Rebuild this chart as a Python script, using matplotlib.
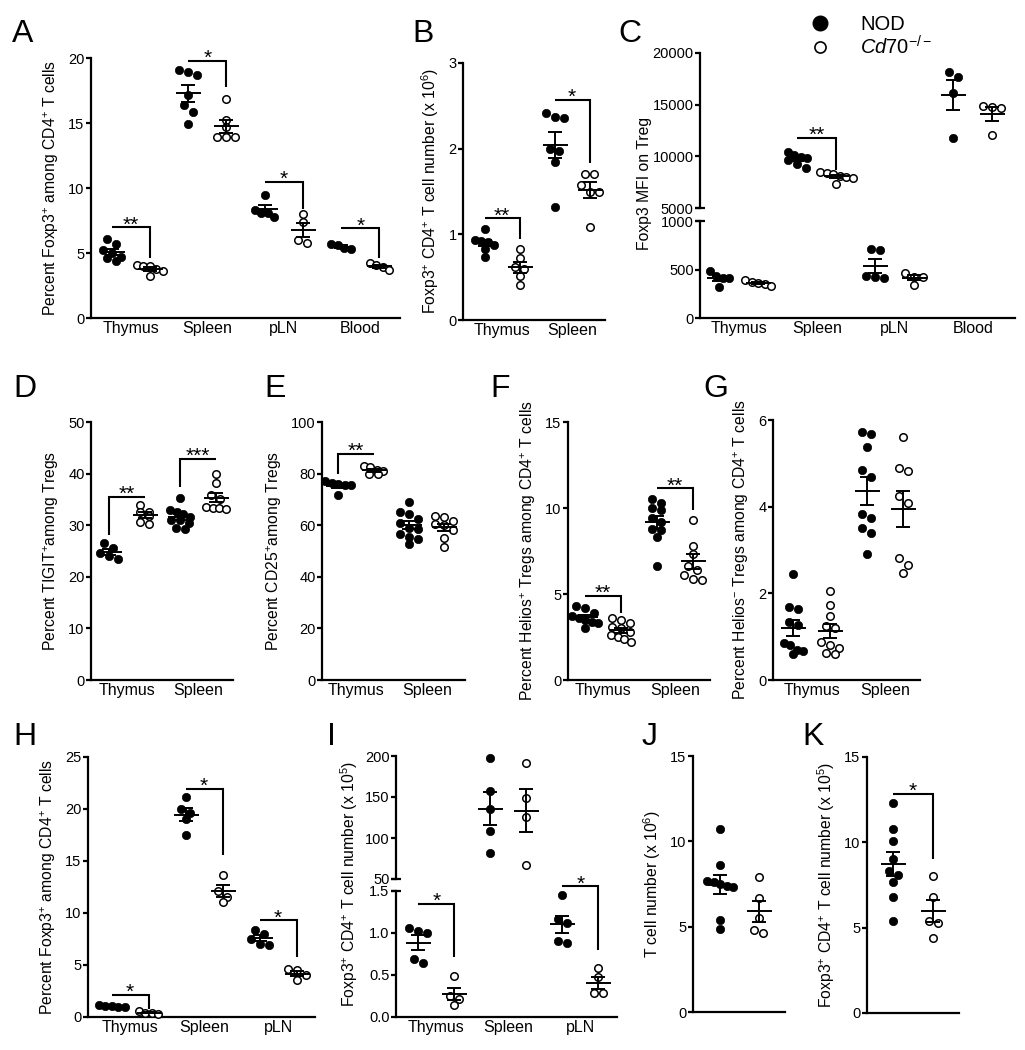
import numpy as np
import matplotlib
matplotlib.use('Agg')
import matplotlib.pyplot as plt
from matplotlib.lines import Line2D

plt.rcParams['font.family'] = ['Liberation Sans', 'DejaVu Sans']
plt.rcParams['mathtext.fontset'] = 'custom'
plt.rcParams['mathtext.rm'] = 'Liberation Sans'
plt.rcParams['mathtext.it'] = 'Liberation Sans:italic'
plt.rcParams['mathtext.default'] = 'regular'

# ---------------- data ----------------
A_cats = ['Thymus', 'Spleen', 'pLN', 'Blood']
A_nod = [[6.1, 5.7, 5.2, 5.0, 4.7, 4.6, 4.4],
         [19.05, 18.92, 18.71, 17.12, 16.40, 15.83, 14.90],
         [9.5, 8.3, 8.1, 8.1, 7.8],
         [5.7, 5.6, 5.4, 5.3]]
A_ko = [[4.1, 4.0, 4.0, 3.8, 3.6, 3.2],
        [16.85, 15.26, 14.67, 13.9, 13.9, 13.9],
        [8.0, 7.4, 6.0, 5.8],
        [4.2, 4.1, 3.9, 3.7]]
A_sig = [(0, 7.0, 4.6, '**'), (1, 19.8, 17.8, '*'), (2, 10.5, 8.4, '*'), (3, 6.9, 4.6, '*')]

B_cats = ['Thymus', 'Spleen']
B_nod = [[1.06, 0.93, 0.92, 0.91, 0.88, 0.83, 0.74],
         [2.42, 2.37, 2.36, 2.0, 1.97, 1.85, 1.32]]
B_ko = [[0.83, 0.72, 0.62, 0.59, 0.51, 0.41],
        [1.71, 1.71, 1.58, 1.50, 1.50, 1.08]]
B_sig = [(0, 1.19, 0.95, '**'), (1, 2.57, 1.83, '*')]

C_cats = ['Thymus', 'Spleen', 'pLN', 'Blood']
C_nod = [[480, 430, 410, 410, 320],
         [10400, 10100, 9900, 9800, 9600, 9300, 8900],
         [710, 700, 430, 420, 410],
         [18200, 17700, 16100, 11800]]
C_ko = [[395, 375, 365, 350, 335],
        [8500, 8400, 8300, 8100, 8000, 7900, 7300],
        [465, 425, 425, 340],
        [14900, 14800, 14700, 12100]]
C_sig = [(1, 11800, 8700, '**')]
C_top_ticks = [5000, 10000, 15000, 20000]
C_bot_ticks = [0, 500, 1000]

D_cats = ['Thymus', 'Spleen']
D_nod = [[26.5, 25.5, 24.6, 24.0, 23.4],
         [35.2, 33.0, 32.6, 32.2, 31.6, 31.0, 31.0, 30.5, 29.4, 29.2]]
D_ko = [[34.0, 32.6, 32.5, 31.8, 30.6, 30.3],
        [40.0, 38.2, 35.8, 35.0, 33.5, 33.4, 33.4, 33.2]]
D_sig = [(0, 35.5, 28.1, '**'), (1, 42.9, 37.4, '***')]

E_cats = ['Thymus', 'Spleen']
E_nod = [[77.0, 76.5, 76.0, 75.5, 75.5, 71.6],
         [69.0, 65.2, 64.5, 62.5, 61.0, 59.0, 58.5, 56.5, 55.5, 54.8, 52.9]]
E_ko = [[83.0, 82.5, 81.5, 81.0, 80.0, 79.8],
        [63.5, 63.0, 61.5, 60.5, 60.0, 58.0, 55.0, 51.5]]
E_sig = [(0, 87.7, 80.0, '**')]

F_cats = ['Thymus', 'Spleen']
F_nod = [[4.3, 4.2, 3.9, 3.7, 3.6, 3.5, 3.4, 3.3, 3.0],
         [10.5, 10.3, 10.0, 9.9, 9.4, 9.2, 8.8, 8.7, 8.3, 6.6]]
F_ko = [[3.6, 3.5, 3.3, 3.1, 3.0, 2.8, 2.6, 2.5, 2.4, 2.2],
        [9.3, 7.8, 7.3, 6.6, 6.4, 6.1, 5.9, 5.8]]
F_sig = [(0, 4.9, 3.9, '**'), (1, 11.16, 9.86, '**')]

G_cats = ['Thymus', 'Spleen']
G_nod = [[2.44, 1.68, 1.65, 1.35, 1.28, 0.85, 0.80, 0.70, 0.68, 0.60],
         [5.72, 5.68, 5.38, 4.85, 4.69, 3.82, 3.75, 3.5, 3.4, 2.9]]
G_ko = [[2.05, 1.72, 1.48, 1.25, 1.20, 0.88, 0.80, 0.75, 0.62, 0.60],
        [5.6, 4.9, 4.82, 4.25, 4.08, 2.82, 2.65, 2.48]]
G_sig = []

H_cats = ['Thymus', 'Spleen', 'pLN']
H_nod = [[1.2, 1.1, 1.1, 1.0, 1.0],
         [21.2, 20.0, 19.6, 19.0, 17.5],
         [8.4, 8.0, 7.5, 7.0, 6.9]]
H_ko = [[0.6, 0.4, 0.4, 0.3],
        [13.7, 12.1, 11.5, 11.1],
        [4.6, 4.5, 4.0, 3.6]]
H_sig = [(0, 2.15, 0.8, '*'), (1, 21.96, 15.6, '*'), (2, 9.3, 5.8, '*')]

I_cats = ['Thymus', 'Spleen', 'pLN']
I_nod = [[1.06, 1.02, 1.0, 0.69, 0.64],
         [197, 157, 135, 108, 82],
         [1.45, 1.17, 1.12, 0.9, 0.88]]
I_ko = [[0.49, 0.25, 0.22, 0.14],
        [192, 148.5, 126, 66.6],
        [0.58, 0.48, 0.28, 0.28]]
I_sig = [(0, 1.35, 0.72, '*'), (2, 1.56, 0.8, '*')]
I_top_ticks = [50, 100, 150, 200]
I_bot_ticks = [0.0, 0.5, 1.0, 1.5]
I_bot_labels = ['0.0', '0.5', '1.0', '1.5']

J_nod = [10.7, 8.6, 7.7, 7.6, 7.5, 7.4, 7.3, 5.4, 4.85]
J_ko = [7.9, 6.7, 5.5, 4.8, 4.6]

K_nod = [12.3, 10.8, 10.1, 9.0, 8.3, 8.1, 7.7, 6.8, 5.4]
K_ko = [8.0, 6.8, 5.4, 5.3, 4.4]
K_sig = [(0, 12.85, 9.0, '*')]

legend_labels = ['NOD', r'$\mathit{Cd70^{-/-}}$']

# ---------------- figure ----------------
W, H = 1025, 1050
DPI = 100
fig = plt.figure(figsize=(W / DPI, H / DPI), dpi=DPI)
LW = 1.6


def pax(l, t, r, b):
    return fig.add_axes([l / W, 1 - b / H, (r - l) / W, (b - t) / H])


def style(ax, bottom=True):
    for s in ['top', 'right']:
        ax.spines[s].set_visible(False)
    ax.spines['left'].set_linewidth(LW)
    ax.spines['bottom'].set_linewidth(LW)
    ax.spines['left'].set_capstyle('projecting')
    ax.spines['bottom'].set_capstyle('projecting')
    if not bottom:
        ax.spines['bottom'].set_visible(False)
    ax.tick_params(axis='y', length=3.6, width=LW, labelsize=10.5, pad=1.0)
    ax.tick_params(axis='x', length=0, labelsize=11.5, pad=2.5)
    ax.set_facecolor('none')
    if not bottom:
        ax.set_xticks([])


def swarm(ax, x, vals, dy_thr=7.5):
    """Row-based horizontal spreading (layout only)."""
    vals = np.asarray(vals, float)
    pts = ax.transData.transform(np.column_stack([np.full(len(vals), x), vals]))
    ys = pts[:, 1]
    ux = ax.transData.transform([(x + 1, 0)])[0, 0] - ax.transData.transform([(x, 0)])[0, 0]
    order = np.argsort(-vals, kind='stable')
    rows = []
    for i in order:
        if rows and abs(ys[rows[-1][0]] - ys[i]) < dy_thr:
            rows[-1].append(i)
        else:
            rows.append([i])
    offs = np.zeros(len(vals))
    for r in rows:
        n = len(r)
        sp = 9.0 if n <= 3 else 6.5
        for k, i in enumerate(r):
            offs[i] = (k - (n - 1) / 2) * sp
    return offs / ux


def draw_group(ax, x, vals, filled):
    vals = np.asarray(vals, float)
    xs = x + swarm(ax, x, vals)
    if filled:
        ax.plot(xs, vals, 'o', ms=6.0, mfc='black', mec='black', mew=0.5,
                ls='none', zorder=3, clip_on=False)
    else:
        ax.plot(xs, vals, 'o', ms=5.4, mfc='white', mec='black', mew=1.1,
                ls='none', zorder=3, clip_on=False)
    m = vals.mean()
    se = vals.std(ddof=1) / np.sqrt(len(vals))
    ax.errorbar([x], [m], yerr=[se], fmt='none', ecolor='black', elinewidth=1.4,
                capsize=5, capthick=1.4, zorder=4)
    ax.plot([x], [m], marker='_', ms=18, mew=1.4, color='black', zorder=4)


def bracket(ax, x0, x1, ybar, ydrop, stars, side='right'):
    if side == 'right':
        xs, ys = [x0, x1, x1], [ybar, ybar, ydrop]
    else:
        xs, ys = [x0, x0, x1], [ydrop, ybar, ybar]
    ax.plot(xs, ys, color='black', lw=1.5, clip_on=False, solid_joinstyle='miter',
            solid_capstyle='butt', zorder=5)
    ax.annotate(stars, xy=((x0 + x1) / 2, ybar), xytext=(0, -2.5),
                textcoords='offset points', ha='center', va='baseline',
                fontsize=15, annotation_clip=False)


def pick_axis(axes, v):
    for a in axes:
        lo, hi = a.get_ylim()
        if lo <= v <= hi * 1.05:
            return a
    return axes[-1]


def dot_panel(axes, cats, nod, ko, sig, off=0.25, side='right'):
    positions = np.arange(len(cats))
    for i, p in enumerate(positions):
        an = pick_axis(axes, np.mean(nod[i]))
        ak = pick_axis(axes, np.mean(ko[i]))
        draw_group(an, p - off, nod[i], True)
        draw_group(ak, p + off, ko[i], False)
    for (i, yb, yd, s) in sig:
        a = pick_axis(axes, yd)
        bracket(a, positions[i] - off, positions[i] + off, yb, yd, s, side)
    bottom = axes[-1]
    bottom.set_xticks(positions)
    bottom.set_xticklabels(cats)


def break_mark(ax, yfrac, width_px):
    f = 5.0 / width_px
    ax.plot([-f, f], [yfrac, yfrac], transform=ax.transAxes, color='black',
            lw=LW, clip_on=False, solid_capstyle='butt')


YL = 11.3

# ---- A ----
axA = pax(91, 58, 400, 318)
style(axA)
axA.set_xlim(-0.52, 3.52)
axA.set_ylim(0, 20)
axA.set_yticks([0, 5, 10, 15, 20])
dot_panel([axA], A_cats, A_nod, A_ko, A_sig)
axA.set_ylabel('Percent Foxp3$^{+}$ among CD4$^{+}$ T cells', fontsize=YL, labelpad=5)

# ---- B ----
axB = pax(463, 63, 605, 320)
style(axB)
axB.set_xlim(-0.56, 1.47)
axB.set_ylim(0, 3)
axB.set_yticks([0, 1, 2, 3])
dot_panel([axB], B_cats, B_nod, B_ko, B_sig)
axB.set_ylabel('Foxp3$^{+}$ CD4$^{+}$ T cell number (x 10$^{6}$)', fontsize=YL, labelpad=5)

# ---- C (broken axis) ----
axCt = pax(700, 53, 1015, 208)
axCb = pax(700, 221, 1015, 318)
style(axCt, bottom=False)
style(axCb)
for a in (axCt, axCb):
    a.set_xlim(-0.5, 3.54)
axCt.set_ylim(5000, 20000)
axCt.set_yticks(C_top_ticks)
axCb.set_ylim(0, 1000)
axCb.set_yticks(C_bot_ticks)
dot_panel([axCt, axCb], C_cats, C_nod, C_ko, C_sig)
break_mark(axCt, 0, 315)
break_mark(axCb, 1, 315)
axCb.set_ylabel('Foxp3 MFI on Treg', fontsize=YL)
axCb.yaxis.set_label_coords(652 / W, 1 - 183 / H, transform=fig.transFigure)

# ---- D ----
axD = pax(91, 422, 233, 680)
style(axD)
axD.set_xlim(-0.5, 1.49)
axD.set_ylim(0, 50)
axD.set_yticks([0, 10, 20, 30, 40, 50])
dot_panel([axD], D_cats, D_nod, D_ko, D_sig, side='left')
axD.set_ylabel('Percent TIGIT$^{+}$among Tregs', fontsize=YL, labelpad=5)

# ---- E ----
axE = pax(322, 422, 465, 680)
style(axE)
axE.set_xlim(-0.48, 1.54)
axE.set_ylim(0, 100)
axE.set_yticks([0, 20, 40, 60, 80, 100])
dot_panel([axE], E_cats, E_nod, E_ko, E_sig, side='left')
axE.set_ylabel('Percent CD25$^{+}$among Tregs', fontsize=YL, labelpad=5)

# ---- F ----
axF = pax(568, 422, 710, 680)
style(axF)
axF.set_xlim(-0.49, 1.49)
axF.set_ylim(0, 15)
axF.set_yticks([0, 5, 10, 15])
dot_panel([axF], F_cats, F_nod, F_ko, F_sig)
axF.set_ylabel('Percent Helios$^{+}$ Tregs among CD4$^{+}$ T cells', fontsize=YL, labelpad=5)

# ---- G ----
axG = pax(773, 420, 920, 680)
style(axG)
axG.set_xlim(-0.53, 1.48)
axG.set_ylim(0, 6)
axG.set_yticks([0, 2, 4, 6])
dot_panel([axG], G_cats, G_nod, G_ko, G_sig)
axG.set_ylabel('Percent Helios$^{-}$ Tregs among CD4$^{+}$ T cells', fontsize=YL, labelpad=5)

# ---- H ----
axH = pax(88, 757, 315, 1017)
style(axH)
axH.set_xlim(-0.57, 2.5)
axH.set_ylim(0, 25)
axH.set_yticks([0, 5, 10, 15, 20, 25])
dot_panel([axH], H_cats, H_nod, H_ko, H_sig)
axH.set_ylabel('Percent Foxp3$^{+}$ among CD4$^{+}$ T cells', fontsize=YL, labelpad=5)

# ---- I (broken axis) ----
axIt = pax(396, 756, 617, 879)
axIb = pax(396, 891, 617, 1017)
style(axIt, bottom=False)
style(axIb)
for a in (axIt, axIb):
    a.set_xlim(-0.56, 2.51)
axIt.set_ylim(50, 200)
axIt.set_yticks(I_top_ticks)
axIb.set_ylim(0, 1.5)
axIb.set_yticks(I_bot_ticks)
axIb.set_yticklabels(I_bot_labels)
dot_panel([axIt, axIb], I_cats, I_nod, I_ko, I_sig)
break_mark(axIt, 0, 221)
break_mark(axIb, 1, 221)
axIb.set_ylabel('Foxp3$^{+}$ CD4$^{+}$ T cell number (x 10$^{5}$)', fontsize=YL)
axIb.yaxis.set_label_coords(360 / W, 1 - 884 / H, transform=fig.transFigure)

# ---- J ----
axJ = pax(693, 756, 785, 1012)
style(axJ)
axJ.set_xlim(-0.7, 1.67)
axJ.set_ylim(0, 15)
axJ.set_yticks([0, 5, 10, 15])
draw_group(axJ, 0, J_nod, True)
draw_group(axJ, 1, J_ko, False)
axJ.set_xticks([])
axJ.set_ylabel('T cell number (x 10$^{6}$)', fontsize=YL, labelpad=5)

# ---- K ----
axK = pax(867, 757, 959, 1013)
style(axK)
axK.set_xlim(-0.65, 1.65)
axK.set_ylim(0, 15)
axK.set_yticks([0, 5, 10, 15])
draw_group(axK, 0, K_nod, True)
draw_group(axK, 1, K_ko, False)
for (i, yb, yd, s) in K_sig:
    bracket(axK, 0, 1, yb, yd, s)
axK.set_xticks([])
axK.set_ylabel('Foxp3$^{+}$ CD4$^{+}$ T cell number (x 10$^{5}$)', fontsize=YL, labelpad=5)

# ---- panel letters ----
letters = [('A', 12, 42), ('B', 412, 42), ('C', 618, 42),
           ('D', 13, 397), ('E', 264, 397), ('F', 490, 397), ('G', 703, 397),
           ('H', 13, 745), ('I', 327, 745), ('J', 642, 745), ('K', 802, 745)]
for s, x, y in letters:
    fig.text(x / W, 1 - y / H, s, fontsize=23, ha='left', va='baseline')

# ---- legend ----
handles = [Line2D([], [], ls='none', marker='o', ms=10.5, mfc='black', mec='black'),
           Line2D([], [], ls='none', marker='o', ms=8.0, mfc='white', mec='black', mew=1.2)]
fig.legend(handles, legend_labels, loc='upper left', bbox_to_anchor=(810 / W, 1 - 15 / H),
           frameon=False, fontsize=14.5, handlelength=1.0, handletextpad=1.5,
           labelspacing=0.05, borderpad=0, borderaxespad=0, numpoints=1)

fig.savefig('out.png', dpi=DPI, facecolor='white')
